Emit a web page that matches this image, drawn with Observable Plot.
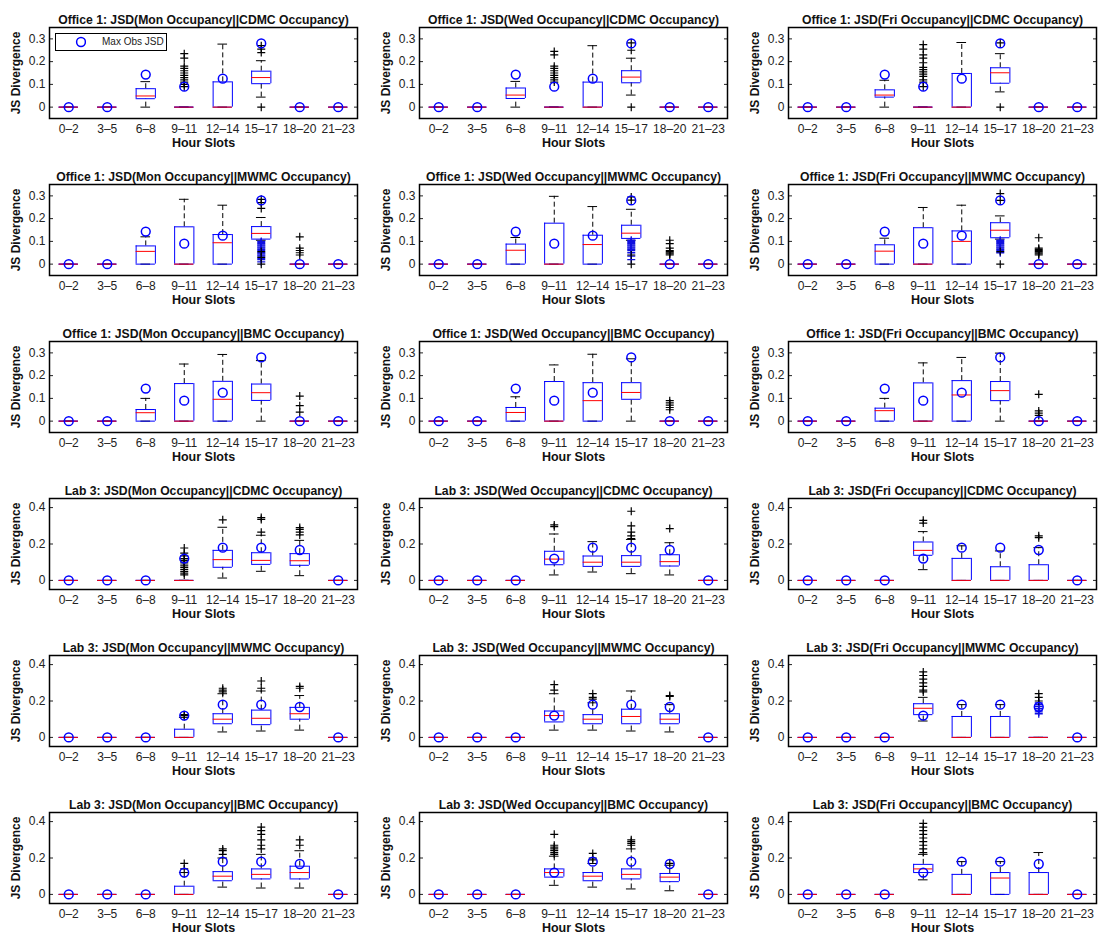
<!DOCTYPE html>
<html><head><meta charset="utf-8">
<script src="https://cdn.jsdelivr.net/npm/d3@7"></script>
<script src="https://cdn.jsdelivr.net/npm/@observablehq/plot@0.6"></script>
<style>
body{margin:0;background:#fff;font-family:"Liberation Sans",Arial,Helvetica,sans-serif;}
#wrap{position:relative;width:1099px;height:938px;overflow:hidden;}
.panel{position:absolute;}
.panel svg{max-width:none !important;}
.legend{position:absolute;border:1px solid #000;background:#fff;font-size:10px;color:#222;box-sizing:border-box;}
</style></head><body><div id="wrap"></div>
<script>
// ---------- data ----------
const slots = ["0–2","3–5","6–8","9–11","12–14","15–17","18–20","21–23"];
const sites = ["Office 1","Lab 3"];
const days = ["Mon","Wed","Fri"];
const models = ["CDMC","MWMC","BMC"];
const maxObsOffice = [0,0,0.143,0.09,0.125,0.28,0,0];
const maxObsLab    = [0,0,0,0.12,0.18,0.18,0.167,0];
const ticksOffice = [0,0.1,0.2,0.3];
const ticksLab = [0,0.2,0.4];

// panels in reading order (row-major: rows = site×model, cols = day)
const lo = [
 [0,0,0,0,0,0.044,0,0],[0,0,0,0,0,0.053,0,0],[0,0,0,0,0,0.067,0,0],
 [0,0,0,0,0,0.105,0,0],[0,0,0,0,0,0.105,0,0],[0,0,0,0,0,0.11,0,0],
 [0,0,0,0,0,0,0,0],[0,0,0,0,0,0,0,0],[0,0,0,0,0,0,0,0],
 [0,0,0,0,0.013,0.05,0.026,0],[0,0,0,0.03,0.046,0.037,0.03,0],[0,0,0,0.059,0,0,0,0],
 [0,0,0,0,0.03,0.035,0.04,0],[0,0,0,0.04,0.04,0.035,0.03,0],[0,0,0,0.09,0,0,0,0],
 [0,0,0,0,0.04,0.035,0.035,0],[0,0,0,0.05,0.04,0.03,0.02,0],[0,0,0,0.08,0,0,0,0]
];
const q1 = [
 [0,0,0.037,0,0,0.103,0,0],[0,0,0.038,0,0,0.107,0,0],[0,0,0.044,0,0,0.105,0,0],
 [0,0,0,0,0,0.11,0,0],[0,0,0,0,0,0.113,0,0],[0,0,0,0,0,0.116,0,0],
 [0,0,0,0,0,0.091,0,0],[0,0,0,0,0,0.096,0,0],[0,0,0,0,0,0.09,0,0],
 [0,0,0,0,0.072,0.088,0.083,0],[0,0,0,0.086,0.077,0.077,0.079,0],[0,0,0,0.138,0,0,0,0],
 [0,0,0,0,0.075,0.07,0.1,0],[0,0,0,0.085,0.075,0.075,0.075,0],[0,0,0,0.125,0,0,0,0],
 [0,0,0,0,0.075,0.085,0.085,0],[0,0,0,0.095,0.075,0.085,0.07,0],[0,0,0,0.12,0,0,0,0]
];
const med = [
 [0,0,0.049,0,0,0.13,0,0],[0,0,0.053,0,0,0.132,0,0],[0,0,0.053,0,0,0.151,0,0],
 [0,0,0.056,0,0.094,0.135,0,0],[0,0,0.061,0,0.086,0.136,0,0],[0,0,0.057,0,0.1,0.149,0,0],
 [0,0,0.037,0,0.096,0.125,0,0],[0,0,0.038,0,0.09,0.126,0,0],[0,0,0.046,0,0.115,0.134,0,0],
 [0,0,0,0,0.114,0.11,0.108,0],[0,0,0,0.117,0.1,0.1,0.103,0],[0,0,0,0.165,0,0,0,0],
 [0,0,0,0,0.1,0.105,0.13,0],[0,0,0,0.12,0.1,0.115,0.1,0],[0,0,0,0.16,0,0,0,0],
 [0,0,0,0,0.1,0.11,0.12,0],[0,0,0,0.12,0.1,0.11,0.095,0],[0,0,0,0.14,0,0.09,0,0]
];
const q3 = [
 [0,0,0.081,0,0.111,0.158,0,0],[0,0,0.084,0,0.11,0.16,0,0],[0,0,0.076,0,0.148,0.173,0,0],
 [0,0,0.08,0.164,0.13,0.165,0,0],[0,0,0.088,0.18,0.127,0.171,0,0],[0,0,0.085,0.16,0.146,0.182,0,0],
 [0,0,0.051,0.165,0.175,0.163,0,0],[0,0,0.06,0.174,0.169,0.169,0,0],[0,0,0.057,0.168,0.178,0.174,0,0],
 [0,0,0,0,0.165,0.152,0.147,0],[0,0,0,0.16,0.134,0.136,0.141,0],[0,0,0,0.211,0.121,0.075,0.086,0],
 [0,0,0,0.045,0.13,0.15,0.165,0],[0,0,0,0.145,0.125,0.155,0.13,0],[0,0,0,0.185,0.115,0.115,0,0],
 [0,0,0,0.045,0.125,0.14,0.155,0],[0,0,0,0.14,0.12,0.14,0.115,0],[0,0,0,0.165,0.11,0.12,0.12,0]
];
const hi = [
 [0,0,0.112,0,0.277,0.204,0,0],[0,0,0.113,0,0.27,0.215,0,0],[0,0,0.118,0,0.284,0.235,0,0],
 [0,0,0.12,0.285,0.259,0.205,0,0],[0,0,0.117,0.298,0.253,0.241,0,0],[0,0,0.114,0.249,0.259,0.212,0,0],
 [0,0,0.1,0.251,0.293,0.266,0,0],[0,0,0.107,0.247,0.294,0.274,0,0],[0,0,0.1,0.256,0.28,0.299,0,0],
 [0,0,0,0,0.292,0.248,0.22,0],[0,0,0,0.255,0.213,0.225,0.207,0],[0,0,0,0.268,0.19,0.162,0.18,0],
 [0,0,0,0.11,0.24,0.255,0.23,0],[0,0,0,0.24,0.19,0.255,0.18,0],[0,0,0,0.22,0.18,0.18,0,0],
 [0,0,0,0.12,0.2,0.22,0.24,0],[0,0,0,0.21,0.17,0.25,0.16,0],[0,0,0,0.22,0.18,0.18,0.23,0]
];
// outliers: {slotIndex: [values]}
const outliers = [
 {3:[0.235,0.215,0.18,0.17,0.16,0.15,0.14,0.13,0.12,0.11,0.10,0.09], 5:[0,0.24,0.255,0.27]},
 {3:[0.245,0.23,0.18,0.17,0.16,0.15,0.14,0.13,0.12,0.11], 5:[0,0.25,0.282]},
 {3:[0.275,0.255,0.23,0.215,0.195,0.175,0.165,0.155,0.145,0.135,0.12,0.11,0.09], 5:[0,0.282]},
 {5:[0.245,0.27,0.285,0.055,0.03,0], 6:[0.12,0.07,0.06,0.05,0.04]},
 {5:[0.281,0.295,0.04,0], 6:[0.105,0.09,0.07,0.06,0.055,0.05,0.045,0.04]},
 {5:[0.28,0.31,0.055,0], 6:[0.116,0.07,0.065,0.06,0.055,0.05,0.045,0.04]},
 {6:[0.11,0.068,0.04]},
 {6:[0.09,0.08,0.07,0.06,0.05]},
 {6:[0.118,0.045,0.035,0.025]},
 {3:[0.178,0.15,0.135,0.12,0.11,0.1,0.09,0.08,0.07,0.06,0.05,0.04,0.03], 4:[0.333], 5:[0.265,0.335,0.345], 6:[0.25,0.265,0.28,0.29]},
 {3:[0.295,0.305], 5:[0.23,0.245,0.265,0.3,0.38], 6:[0.285]},
 {3:[0.315,0.33], 6:[0.235,0.245]},
 {3:[0.12,0.125], 4:[0.25,0.26,0.27], 5:[0.27,0.31], 6:[0.27,0.28]},
 {3:[0.26,0.29], 4:[0.21,0.22,0.24], 6:[0.225,0.23]},
 {3:[0.25,0.26,0.28,0.3,0.32,0.34,0.36], 6:[0.2,0.22,0.24]},
 {3:[0.14,0.17], 4:[0.22,0.24,0.25], 5:[0.25,0.27,0.3,0.33,0.35,0.37], 6:[0.27,0.3]},
 {3:[0.22,0.23,0.24,0.25,0.26,0.27,0.33], 4:[0.19,0.2,0.225], 5:[0.27,0.28,0.29,0.3], 6:[0.17]},
 {3:[0.23,0.25,0.27,0.29,0.31,0.33,0.35,0.37,0.39]}
];
// dense outlier clusters that render blue in the original
const blueOutliers = [
 {},{},{},
 {5:[0.1,0.095,0.09,0.085,0.08,0.075,0.07,0.065,0.06,0.05,0.045,0.04,0.035,0.025,0.02,0.01]},
 {5:[0.105,0.1,0.095,0.09,0.085,0.08,0.075,0.07,0.065,0.06,0.05,0.035,0.02]},
 {5:[0.105,0.1,0.095,0.09,0.085,0.08,0.075,0.07,0.065,0.06,0.05]},
 {},{},{},{},{},{},{},{},
 {6:[0.13,0.14,0.15,0.16,0.17,0.18,0.19]},
 {},{},{}
];

// ---------- layout ----------
const colLeft = [49, 419, 788];
const rowTop = [27, 184, 341, 498, 655, 812];
const FW = 308, FH = 91;
const ML = 49, MR = 3, MT = 27, MB = 36;

const plusSym = {draw(ctx, size){ const r = Math.sqrt(size/Math.PI); ctx.moveTo(-r,0); ctx.lineTo(r,0); ctx.moveTo(0,-r); ctx.lineTo(0,r); }};

const wrap = document.getElementById("wrap");
const fmt = d => d === 0 ? "0" : String(d);

for (let row = 0; row < 6; row++) {
  for (let col = 0; col < 3; col++) {
    const p = row*3 + col;
    const isOffice = row < 3;
    const site = sites[isOffice ? 0 : 1];
    const model = models[row % 3];
    const title = `${site}: JSD(${days[col]} Occupancy||${model} Occupancy)`;
    const maxObs = isOffice ? maxObsOffice : maxObsLab;
    const ticks = isOffice ? ticksOffice : ticksLab;
    const yDom = isOffice ? [-0.05, 0.35] : [-0.05, 0.45];
    const data = slots.map((s, k) => ({i: k+1, lo: lo[p][k], q1: q1[p][k], med: med[p][k], q3: q3[p][k], hi: hi[p][k], m: maxObs[k]}));
    const outs = [], bouts = [];
    for (const [k, vals] of Object.entries(outliers[p])) for (const v of vals) outs.push({i: +k+1, v});
    for (const [k, vals] of Object.entries(blueOutliers[p])) for (const v of vals) bouts.push({i: +k+1, v});
    const bx1 = d => d.i - 0.25, bx2 = d => d.i + 0.25;
    const cx1 = d => d.i - 0.125, cx2 = d => d.i + 0.125;
    const W = ML + FW + MR, H = MT + FH + MB;
    const plot = Plot.plot({
      width: W, height: H,
      marginLeft: ML, marginRight: MR, marginTop: MT, marginBottom: MB,
      x: {domain: [0.5, 8.5], axis: null},
      y: {domain: yDom, axis: null},
      style: {fontFamily: '"Liberation Sans", Arial, sans-serif', fontSize: "12px", color: "#222", background: "transparent", overflow: "visible", maxWidth: "none"},
      marks: [
        Plot.ruleX(data, {x: "i", y1: "q3", y2: "hi", stroke: "black", strokeDasharray: "5,3", strokeWidth: 1}),
        Plot.ruleX(data, {x: "i", y1: "lo", y2: "q1", stroke: "black", strokeDasharray: "5,3", strokeWidth: 1}),
        Plot.ruleY(data, {y: "hi", x1: cx1, x2: cx2, stroke: "black"}),
        Plot.ruleY(data, {y: "lo", x1: cx1, x2: cx2, stroke: "black"}),
        Plot.ruleY(data, {y: "q1", x1: bx1, x2: bx2, stroke: "#0000ff"}),
        Plot.ruleY(data, {y: "q3", x1: bx1, x2: bx2, stroke: "#0000ff"}),
        Plot.ruleX(data, {x: bx1, y1: "q1", y2: "q3", stroke: "#0000ff"}),
        Plot.ruleX(data, {x: bx2, y1: "q1", y2: "q3", stroke: "#0000ff"}),
        Plot.ruleY(data, {y: "med", x1: bx1, x2: bx2, stroke: "#ff0000"}),
        Plot.dot(bouts, {x: "i", y: "v", symbol: plusSym, r: 4, stroke: "#1010e0", fill: "none", strokeWidth: 1.3}),
        Plot.dot(outs, {x: "i", y: "v", symbol: plusSym, r: 4, stroke: "black", fill: "none", strokeWidth: 1.2}),
        Plot.dot(data, {x: "i", y: "m", r: 4.4, stroke: "#0000ff", fill: "none", strokeWidth: 1.5}),
        Plot.axisY({ticks, tickSize: 0, tickPadding: 4, tickFormat: fmt, label: null, fontSize: 12}),
        Plot.axisY({ticks, anchor: "left", tickSize: -4, text: null, label: null}),
        Plot.axisY({ticks, anchor: "right", tickSize: -4, text: null, label: null}),
        Plot.axisX({ticks: d3.range(1, 9), tickSize: 0, tickPadding: 6, tickFormat: i => slots[i-1], label: null, fontSize: 12}),
        Plot.frame({stroke: "black", strokeWidth: 1.5}),
        Plot.text([title], {frameAnchor: "top", dy: -12, fontWeight: "bold", fontSize: 12.2, fill: "#111"}),
        Plot.text(["Hour Slots"], {frameAnchor: "bottom", dy: 28, fontWeight: "bold", fontSize: 12.5, fill: "#111"}),
        Plot.text(["JS Divergence"], {frameAnchor: "left", dx: -33, rotate: -90, textAnchor: "middle", fontWeight: "bold", fontSize: 12, fill: "#111"})
      ]
    });
    plot.style.maxWidth = "none";
    plot.setAttribute("width", W);
    plot.setAttribute("height", H);
    const div = document.createElement("div");
    div.className = "panel";
    div.style.left = (colLeft[col] - ML) + "px";
    div.style.top = (rowTop[row] - MT) + "px";
    div.style.width = W + "px";
    div.style.height = H + "px";
    div.appendChild(plot);
    wrap.appendChild(div);
  }
}

// legend (first panel)
const lg = document.createElement("div");
lg.className = "legend";
lg.style.left = "55px"; lg.style.top = "33px"; lg.style.width = "112px"; lg.style.height = "18px";
lg.innerHTML = '<svg width="30" height="16" style="position:absolute;left:0;top:0"><circle cx="25" cy="8" r="4.4" fill="none" stroke="#0000ff" stroke-width="1.5"/></svg><span style="position:absolute;left:46px;top:2px;white-space:nowrap">Max Obs JSD</span>';
wrap.appendChild(lg);
</script></body></html>
